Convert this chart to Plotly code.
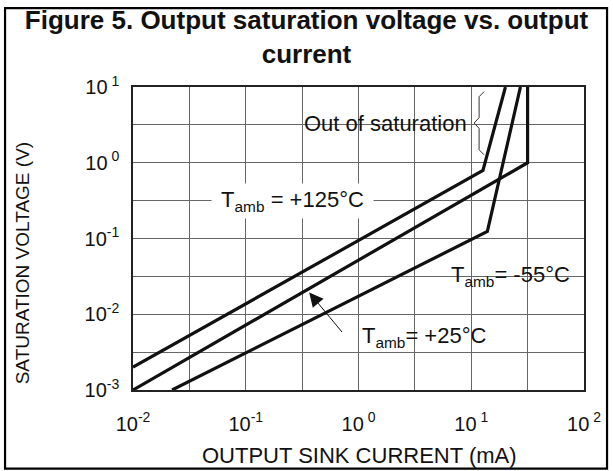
import numpy as np
import plotly.graph_objects as go

# ---- data ----
cur_125 = [0.01, 12.7, 20.1]          # mA
vsat_125 = [0.002, 0.79, 10.0]        # V
cur_25 = [0.01, 31.6, 31.6]
vsat_25 = [0.001, 1.0, 10.0]
cur_m55 = [0.0222, 13.9, 27.3]
vsat_m55 = [0.001, 0.124, 10.0]

x_exps = [-2, -1, 0, 1, 2]
x_ticktext = ["10<sup>-2</sup>", "10<sup>-1</sup>", "10<sup> 0</sup>",
              "10<sup> 1</sup>", "10<sup> 2</sup>"]
x_minor_exps = [-1.5, -0.5, 0.5, 1.5]
y_exps = [-3, -2, -1, 0, 1]
y_ticktext = ["10<sup>-3</sup>", "10<sup>-2</sup>", "10<sup>-1</sup>",
              "10<sup> 0</sup>", "10<sup> 1</sup>"]
y_minor_exps = [-2.5, -1.5, -0.5, 0.5]

FONT = "Liberation Sans, Arial, Helvetica, sans-serif"
LINE = dict(color="#111111", width=3.2)
GRID = "#666666"

fig = go.Figure()
for xs, ys, nm in [(cur_125, vsat_125, "+125°C"), (cur_25, vsat_25, "+25°C"),
                   (cur_m55, vsat_m55, "-55°C")]:
    fig.add_trace(go.Scatter(x=xs, y=ys, mode="lines", line=LINE, name=nm,
                             showlegend=False, hoverinfo="skip"))

axis_common = dict(type="log", showgrid=True, gridcolor=GRID, gridwidth=1,
                   showline=True, linecolor="#222222", linewidth=1.5, mirror=True,
                   zeroline=False, ticks="", tickfont=dict(family=FONT, size=20, color="#111"))

fig.update_xaxes(range=[-2, 2], tickvals=[10 ** e for e in x_exps], ticktext=x_ticktext,
                 minor=dict(tickvals=[10 ** e for e in x_minor_exps], showgrid=True,
                            gridcolor=GRID, gridwidth=1, ticks=""),
                 ticklabelstandoff=15, **axis_common)
fig.update_yaxes(range=[-3, 1], tickvals=[10 ** e for e in y_exps], ticktext=y_ticktext,
                 minor=dict(tickvals=[10 ** e for e in y_minor_exps], showgrid=True,
                            gridcolor=GRID, gridwidth=1, ticks=""),
                 ticklabelstandoff=8, **axis_common)


def px2paper(px, py):
    return (px - 133.3) / 454.0, (390.0 - py) / 302.7


ann_font = dict(family=FONT, size=22, color="#111")
xt = px2paper(361, 455)
yt = px2paper(22, 263)
annotations = [
    dict(x=xt[0], y=xt[1], xref="paper", yref="paper", xanchor="center", yanchor="middle",
         text="OUTPUT SINK CURRENT (mA)",
         showarrow=False, font=dict(family=FONT, size=22, color="#111")),
    dict(x=yt[0], y=yt[1], xref="paper", yref="paper", xanchor="center", yanchor="middle",
         text="SATURATION VOLTAGE (V)",
         textangle=-90, showarrow=False, font=dict(family=FONT, size=19, color="#111")),
    dict(x=0.240, y=0.524, xref="x", yref="y", text="Out of saturation",
         showarrow=False, font=ann_font),
    dict(x=-0.586, y=-0.51, xref="x", yref="y",
         text="\u00a0T<sub>amb</sub> = +125°C\u00a0", showarrow=False,
         font=ann_font, bgcolor="white", borderpad=3),
    dict(x=1.345, y=-1.50, xref="x", yref="y", text="T<sub>amb</sub>= -55°C",
         showarrow=False, font=ann_font),
    dict(x=0.579, y=-2.30, xref="x", yref="y", text="T<sub>amb</sub>= +25°C",
         showarrow=False, font=ann_font),
    dict(x=-0.437, y=-1.713, xref="x", yref="y", text="", showarrow=True,
         ax=34, ay=41, arrowhead=2, arrowsize=2.8, arrowwidth=1, arrowcolor="#111"),
]

# brace and outer frame in paper coordinates
pts = [(486.7, 92), (481.7, 97), (481.7, 118), (476.7, 123.3), (481.7, 128.6),
       (481.7, 150), (486.7, 155)]
path = ""
for i, (a, b) in enumerate(pts):
    u, v = px2paper(a, b)
    path += ("M" if i == 0 else "L") + f"{u:.4f},{v:.4f} "
shapes = [dict(type="path", xref="paper", yref="paper", path=path,
               line=dict(color="#333", width=1))]
x0, y0 = px2paper(4.5, 8.5)
x1, y1 = px2paper(610.5, 468.5)
shapes.append(dict(type="rect", xref="paper", yref="paper", x0=x0, y0=y1, x1=x1, y1=y0,
                   line=dict(color="black", width=2.2), fillcolor="rgba(0,0,0,0)"))

fig.update_layout(
    width=613, height=471,
    margin=dict(l=133, r=26, t=87, b=81),
    paper_bgcolor="white", plot_bgcolor="white",
    title=dict(text="<b>Figure 5. Output saturation voltage vs. output<br>current</b>",
               x=0.5, xanchor="center", y=0.939, yanchor="top",
               font=dict(family=FONT, size=26, color="#111")),
    annotations=annotations, shapes=shapes,
)

fig.write_html("out.html", config={"displayModeBar": False},
               post_script="document.body.style.margin='0';")
